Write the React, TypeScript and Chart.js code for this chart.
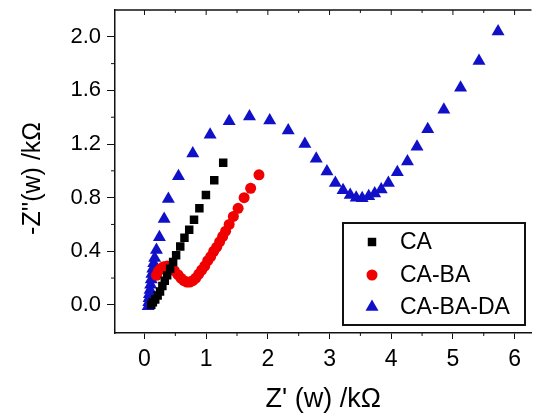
import React, { useEffect, useRef } from "react";
import { Chart, registerables } from "chart.js";

Chart.register(...registerables);

// CA (black squares)
const caX = [0.11, 0.136, 0.174, 0.213, 0.252, 0.29, 0.329, 0.368, 0.416, 0.464, 0.513, 0.58, 0.648, 0.725, 0.803, 0.89, 0.996, 1.131, 1.276];
const caY = [0.0, 0.02, 0.04, 0.07, 0.1, 0.14, 0.18, 0.22, 0.27, 0.32, 0.37, 0.435, 0.5, 0.56, 0.635, 0.72, 0.82, 0.93, 1.06];

// CA-BA (red circles)
const cabaX = [0.194, 0.223, 0.261, 0.31, 0.368, 0.426, 0.484, 0.542, 0.59, 0.639, 0.687, 0.735, 0.783, 0.832, 0.88, 0.928, 0.977, 1.025, 1.073, 1.122, 1.17, 1.218, 1.267, 1.315, 1.373, 1.441, 1.518, 1.615, 1.721, 1.856];
const cabaY = [0.22, 0.25, 0.27, 0.285, 0.29, 0.28, 0.255, 0.225, 0.2, 0.18, 0.17, 0.17, 0.18, 0.2, 0.23, 0.26, 0.29, 0.33, 0.36, 0.4, 0.43, 0.47, 0.51, 0.55, 0.6, 0.66, 0.72, 0.8, 0.87, 0.97];

// CA-BA-DA (blue triangles)
const cabadaX = [0.06, 0.07, 0.075, 0.08, 0.09, 0.1, 0.11, 0.12, 0.135, 0.15, 0.165, 0.194, 0.242, 0.319, 0.387, 0.551, 0.783, 1.064, 1.373, 1.702, 2.03, 2.33, 2.6, 2.784, 2.958, 3.094, 3.219, 3.335, 3.432, 3.529, 3.635, 3.732, 3.838, 3.954, 4.099, 4.263, 4.418, 4.592, 4.853, 5.124, 5.423, 5.732];
const cabadaY = [-0.01, 0.02, 0.05, 0.08, 0.11, 0.15, 0.19, 0.23, 0.27, 0.31, 0.35, 0.41, 0.505, 0.64, 0.79, 0.96, 1.13, 1.27, 1.37, 1.405, 1.375, 1.3, 1.2, 1.09, 0.995, 0.91, 0.855, 0.82, 0.8, 0.795, 0.81, 0.83, 0.86, 0.91, 0.99, 1.07, 1.18, 1.31, 1.455, 1.62, 1.82, 2.04];

const seriesLabels = ["CA", "CA-BA", "CA-BA-DA"];

const xTicks = [0, 1, 2, 3, 4, 5, 6];
const xMinorTicks = [0.5, 1.5, 2.5, 3.5, 4.5, 5.5];
const yTicks = [0.0, 0.4, 0.8, 1.2, 1.6, 2.0];
const yMinorTicks = [0.2, 0.6, 1.0, 1.4, 1.8];

const FONT = "'Liberation Sans', Arial, sans-serif";

const zip = (xs: number[], ys: number[]) => xs.map((x, i) => ({ x, y: ys[i] }));

const framePlugin = {
  id: "frame",
  afterDraw(chart: any) {
    const { ctx, chartArea } = chart;
    const xs = chart.scales.x;
    const ys = chart.scales.y;
    ctx.save();
    ctx.strokeStyle = "#111";
    ctx.lineWidth = 1.5;
    ctx.beginPath();
    ctx.moveTo(chartArea.left, chartArea.top);
    ctx.lineTo(chartArea.right, chartArea.top);
    ctx.stroke();
    ctx.lineWidth = 1;
    ctx.beginPath();
    xMinorTicks.forEach((v) => {
      const px = xs.getPixelForValue(v);
      ctx.moveTo(px, chartArea.bottom);
      ctx.lineTo(px, chartArea.bottom + 3);
    });
    xTicks.forEach((v) => {
      const px = xs.getPixelForValue(v);
      ctx.moveTo(px, chartArea.top);
      ctx.lineTo(px, chartArea.top + 5);
    });
    xMinorTicks.forEach((v) => {
      const px = xs.getPixelForValue(v);
      ctx.moveTo(px, chartArea.top);
      ctx.lineTo(px, chartArea.top + 3);
    });
    yMinorTicks.forEach((v) => {
      const py = ys.getPixelForValue(v);
      ctx.moveTo(chartArea.left, py);
      ctx.lineTo(chartArea.left - 4, py);
    });
    ctx.stroke();
    ctx.restore();
  },
};

const legendPlugin = {
  id: "boxLegend",
  afterDraw(chart: any) {
    const { ctx } = chart;
    const left = 343, top = 223, right = 525, bottom = 325;
    ctx.save();
    ctx.fillStyle = "#fff";
    ctx.fillRect(left, top, right - left, bottom - top);
    ctx.strokeStyle = "#111";
    ctx.lineWidth = 2;
    ctx.strokeRect(left, top, right - left, bottom - top);
    const rows = [242, 275, 307];
    chart.data.datasets.forEach((ds: any, i: number) => {
      const cy = rows[i];
      const cx = 372;
      const r = ds.pointRadius;
      ctx.fillStyle = ds.backgroundColor;
      ctx.beginPath();
      if (ds.pointStyle === "rect") {
        const s = Math.SQRT1_2 * r;
        ctx.rect(cx - s, cy - s, 2 * s, 2 * s);
      } else if (ds.pointStyle === "circle") {
        ctx.arc(cx, cy, r, 0, Math.PI * 2);
      } else {
        ctx.moveTo(cx, cy - r);
        ctx.lineTo(cx + r * 0.866, cy + r * 0.5);
        ctx.lineTo(cx - r * 0.866, cy + r * 0.5);
        ctx.closePath();
      }
      ctx.fill();
      ctx.fillStyle = "#000";
      ctx.font = `23px ${FONT}`;
      ctx.textBaseline = "middle";
      ctx.textAlign = "left";
      ctx.fillText(ds.label, 400, cy + 1);
    });
    ctx.restore();
  },
};

export default function App() {
  const ref = useRef<HTMLCanvasElement | null>(null);
  useEffect(() => {
    if (!ref.current) return;
    const chart = new Chart(ref.current, {
      type: "scatter",
      data: {
        datasets: [
          {
            label: seriesLabels[0],
            data: zip(caX, caY),
            pointStyle: "rect",
            pointRadius: 6,
            backgroundColor: "#000000",
            borderColor: "#000000",
            borderWidth: 0,
          },
          {
            label: seriesLabels[1],
            data: zip(cabaX, cabaY),
            pointStyle: "circle",
            pointRadius: 5.5,
            backgroundColor: "#f00000",
            borderColor: "#f00000",
            borderWidth: 0,
          },
          {
            label: seriesLabels[2],
            data: zip(cabadaX, cabadaY),
            pointStyle: "triangle",
            pointRadius: 7.5,
            backgroundColor: "#1010c8",
            borderColor: "#1010c8",
            borderWidth: 0,
          },
        ],
      },
      options: {
        animation: false,
        responsive: false,
        maintainAspectRatio: false,
        layout: { padding: { top: 10, right: 0, left: 0, bottom: 0 } },
        plugins: { legend: { display: false }, tooltip: { enabled: false } },
        scales: {
          x: {
            type: "linear",
            min: -0.478,
            max: 6.274,
            afterBuildTicks: (s: any) => {
              s.ticks = xTicks.map((v) => ({ value: v }));
            },
            afterFit: (s: any) => {
              s.height = 80;
              s.paddingLeft = 0;
              s.paddingRight = 0;
            },
            grid: { display: true, drawOnChartArea: false, drawTicks: true, tickLength: 6, color: "#111", lineWidth: 1 },
            border: { display: true, color: "#111", width: 1.5 },
            ticks: {
              color: "#000",
              font: { family: FONT, size: 23 },
              padding: 7,
              callback: (v: any) => String(v),
              maxRotation: 0,
            },
            title: {
              display: true,
              text: "Z' (w) /kΩ",
              color: "#000",
              font: { family: FONT, size: 27, lineHeight: 1.0 },
              padding: { top: 0, bottom: 0 },
            },
          },
          y: {
            type: "linear",
            min: -0.21,
            max: 2.2,
            afterBuildTicks: (s: any) => {
              s.ticks = yTicks.map((v) => ({ value: v }));
            },
            afterFit: (s: any) => {
              s.width = 115;
              s.paddingTop = 0;
              s.paddingBottom = 0;
            },
            grid: { display: true, drawOnChartArea: false, drawTicks: true, tickLength: 8, color: "#111", lineWidth: 1 },
            border: { display: true, color: "#111", width: 1.5 },
            ticks: {
              color: "#000",
              font: { family: FONT, size: 22 },
              padding: 6,
              callback: (v: any) => Number(v).toFixed(1),
            },
            title: {
              display: true,
              text: "-Z''(w) /kΩ  ",
              color: "#000",
              font: { family: FONT, size: 25 },
              padding: { top: 18, bottom: 0 },
            },
          },
        },
      },
      plugins: [framePlugin, legendPlugin],
    });
    return () => chart.destroy();
  }, []);
  return (
    <div style={{ position: "fixed", left: 0, top: 0, width: 539, height: 413, background: "#fff" }}>
      <canvas ref={ref} width={539} height={413} style={{ width: 539, height: 413 }} />
    </div>
  );
}
